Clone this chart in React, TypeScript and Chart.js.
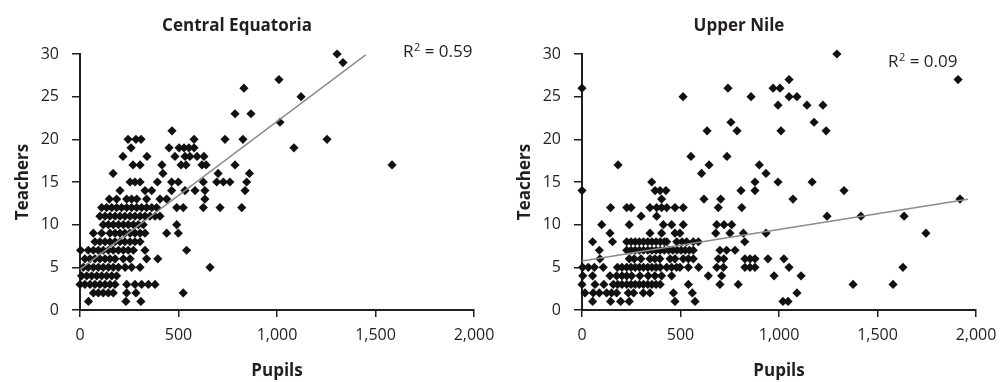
import React, { useEffect, useRef } from "react";
import { Chart, registerables } from "chart.js";

Chart.register(...registerables);

// ---------- data ----------
const xTickValues = [0, 500, 1000, 1500, 2000];
const yTickValues = [0, 5, 10, 15, 20, 25, 30];

// Pupils per school, listed by the number of teachers (array index = teachers)
const centralEquatoriaPupils: number[][] = [
  /* 0 */ [],
  /* 1 */ [43, 233, 309],
  /* 2 */ [68, 93, 118, 144, 169, 237, 284, 524],
  /* 3 */ [0, 25, 51, 76, 101, 127, 152, 178, 237, 279, 313, 347, 381],
  /* 4 */ [8, 34, 59, 85, 110, 135, 161, 186],
  /* 5 */ [17, 42, 68, 93, 118, 144, 169, 195, 229, 262, 305, 660],
  /* 6 */ [25, 51, 76, 101, 127, 152, 178, 220, 254, 338, 395],
  /* 7 */ [3, 42, 68, 93, 118, 144, 169, 195, 220, 245, 271, 330, 541],
  /* 8 */ [76, 101, 127, 152, 178, 203, 228, 254, 279, 305],
  /* 9 */ [68, 110, 152, 178, 203, 228, 254, 279, 305, 330, 440, 499],
  /* 10 */ [118, 144, 169, 195, 220, 245, 271, 296, 321, 491],
  /* 11 */ [101, 127, 152, 178, 203, 228, 254, 279, 305, 330, 355, 381, 406],
  /* 12 */ [110, 135, 161, 186, 211, 237, 262, 288, 313, 338, 364, 389, 491, 524, 626, 711, 821],
  /* 13 */ [149, 186, 237, 262, 288, 338, 406, 440, 634],
  /* 14 */ [203, 330, 364, 465, 533, 584, 634, 838],
  /* 15 */ [254, 279, 305, 393, 465, 499, 626, 694, 728, 761, 846],
  /* 16 */ [168, 421, 701, 860],
  /* 17 */ [269, 305, 416, 513, 538, 619, 640, 787, 1584],
  /* 18 */ [218, 340, 482, 533, 558, 594, 629],
  /* 19 */ [259, 452, 503, 528, 553, 579, 1086],
  /* 20 */ [244, 284, 310, 579, 736, 827, 1254],
  /* 21 */ [467],
  /* 22 */ [1015],
  /* 23 */ [787, 868],
  /* 24 */ [],
  /* 25 */ [1122],
  /* 26 */ [832],
  /* 27 */ [1010],
  /* 28 */ [],
  /* 29 */ [1335],
  /* 30 */ [1305],
];

const upperNilePupils: number[][] = [
  /* 0 */ [],
  /* 1 */ [54, 145, 196, 240, 472, 574, 1020, 1046],
  /* 2 */ [15, 57, 88, 125, 150, 176, 235, 262, 311, 345, 464, 560, 1091],
  /* 3 */ [0, 66, 111, 159, 181, 203, 227, 249, 270, 291, 312, 334, 355, 376, 397, 540, 700, 793, 1376, 1579],
  /* 4 */ [4, 54, 142, 176, 203, 227, 252, 294, 336, 370, 404, 455, 641, 709, 975, 1112],
  /* 5 */ [3, 32, 63, 108, 180, 203, 227, 249, 270, 291, 312, 334, 355, 376, 397, 430, 455, 480, 497, 540, 592, 684, 718, 827, 853, 878, 1051, 1629],
  /* 6 */ [91, 240, 265, 299, 345, 370, 395, 447, 472, 514, 540, 565, 692, 720, 827, 853, 878, 944, 1025],
  /* 7 */ [88, 227, 249, 270, 291, 312, 334, 355, 376, 397, 418, 440, 461, 482, 503, 524, 545, 565, 700, 734, 777],
  /* 8 */ [54, 155, 227, 249, 270, 291, 312, 334, 355, 376, 397, 418, 430, 481, 508, 531, 565, 591, 826],
  /* 9 */ [142, 345, 404, 472, 497, 679, 751, 819, 934, 1746],
  /* 10 */ [100, 240, 413, 455, 514, 684, 721, 760],
  /* 11 */ [300, 379, 1244, 1416, 1635],
  /* 12 */ [145, 227, 249, 345, 379, 404, 430, 472, 514, 692, 811],
  /* 13 */ [404, 619, 704, 1071, 1919],
  /* 14 */ [0, 371, 396, 426, 807, 878, 1330],
  /* 15 */ [354, 878, 995, 1168],
  /* 16 */ [607, 934],
  /* 17 */ [183, 645, 900],
  /* 18 */ [553, 736],
  /* 19 */ [],
  /* 20 */ [],
  /* 21 */ [635, 787, 1010, 1239],
  /* 22 */ [756, 1178],
  /* 23 */ [],
  /* 24 */ [995, 1142, 1223],
  /* 25 */ [513, 858, 1051, 1091],
  /* 26 */ [0, 741, 970, 1005],
  /* 27 */ [1051, 1909],
  /* 28 */ [],
  /* 29 */ [],
  /* 30 */ [1294],
];

// Linear trend lines (end points)
const centralEquatoriaTrendX = [0, 1450];
const centralEquatoriaTrendY = [4.77, 29.9];
const upperNileTrendX = [0, 1959];
const upperNileTrendY = [5.74, 12.97];

// R-squared labels: [base, superscript, rest]
const centralEquatoriaR2 = ["R", "2", " = 0.59"];
const upperNileR2 = ["R", "2", " = 0.09"];

// ---------- styling ----------
const INK = "#231f20";
const FONT = "'Open Sans', 'DejaVu Sans', sans-serif";

type PanelProps = {
  left: number;
  width: number;
  title: string;
  pupilsByTeachers: number[][];
  trendX: number[];
  trendY: number[];
  r2: string[];
  r2x: number;
  r2y: number;
};

function Panel(props: PanelProps) {
  const ref = useRef<HTMLCanvasElement>(null);
  useEffect(() => {
    const points = props.pupilsByTeachers.flatMap((row, teachers) =>
      row.map((pupils) => ({ x: pupils, y: teachers }))
    );
    const trend = props.trendX.map((x, i) => ({ x, y: props.trendY[i] }));
    const rightPad = props.width - 474;

    const r2Plugin = {
      id: "r2label",
      afterDraw(chart: any) {
        const ctx = chart.ctx;
        ctx.save();
        ctx.fillStyle = INK;
        ctx.textAlign = "left";
        ctx.textBaseline = "middle";
        let x = props.r2x;
        ctx.font = `17px ${FONT}`;
        ctx.fillText(props.r2[0], x, props.r2y);
        x += ctx.measureText(props.r2[0]).width + 0.5;
        ctx.font = `11px ${FONT}`;
        ctx.fillText(props.r2[1], x, props.r2y - 4);
        x += ctx.measureText(props.r2[1]).width;
        ctx.font = `17px ${FONT}`;
        ctx.fillText(props.r2[2], x, props.r2y);
        ctx.restore();
      },
    };

    const chart = new Chart(ref.current!, {
      type: "scatter",
      data: {
        datasets: [
          {
            data: trend,
            showLine: true,
            borderColor: "#8c8c8c",
            borderWidth: 1.5,
            pointRadius: 0,
            order: 0,
            clip: false,
          } as any,
          {
            data: points,
            pointStyle: "rectRot",
            pointRadius: 4.6,
            pointBackgroundColor: "#111",
            pointBorderWidth: 0,
            backgroundColor: "#111",
            borderWidth: 0,
            order: 1,
            clip: false,
          } as any,
        ],
      },
      options: {
        animation: false,
        responsive: false,
        events: [],
        layout: { padding: { left: 0, right: rightPad, top: 0, bottom: 0 } },
        plugins: {
          legend: { display: false },
          tooltip: { enabled: false },
          title: {
            display: true,
            text: props.title,
            color: INK,
            font: { family: FONT, size: 17, weight: "bold" },
            padding: { top: 16, bottom: 17.6 },
          },
        },
        scales: {
          x: {
            type: "linear",
            min: 0,
            max: 2000,
            afterBuildTicks: (s: any) => {
              s.ticks = xTickValues.map((v) => ({ value: v }));
            },
            ticks: {
              color: INK,
              font: { family: FONT, size: 16 },
              padding: 9,
              maxRotation: 0,
              autoSkip: false,
              callback: (v: any) => Number(v).toLocaleString("en-US"),
            },
            grid: {
              drawOnChartArea: false,
              drawTicks: true,
              tickLength: 7,
              color: INK,
              lineWidth: 1.5,
            },
            border: { color: INK, width: 2 },
            title: {
              display: true,
              text: "Pupils",
              color: INK,
              font: { family: FONT, size: 17, weight: "bold" },
              padding: { top: 0, bottom: 1 },
            },
            afterFit: (s: any) => {
              s.height = 72;
              s.paddingLeft = 0;
              s.paddingRight = 0;
            },
          },
          y: {
            type: "linear",
            min: 0,
            max: 30,
            afterBuildTicks: (s: any) => {
              s.ticks = yTickValues.map((v) => ({ value: v }));
            },
            ticks: {
              color: INK,
              font: { family: FONT, size: 16 },
              padding: 13,
            },
            grid: {
              drawOnChartArea: false,
              drawTicks: true,
              tickLength: 8,
              color: INK,
              lineWidth: 1.5,
            },
            border: { color: INK, width: 2 },
            title: {
              display: true,
              text: "Teachers",
              color: INK,
              font: { family: FONT, size: 17, weight: "bold" },
              padding: { top: 13, bottom: 0 },
            },
            afterFit: (s: any) => {
              s.width = 80;
              s.paddingTop = 0;
              s.paddingBottom = 0;
            },
          },
        },
      } as any,
      plugins: [r2Plugin],
    });
    return () => chart.destroy();
  }, []);

  return (
    <div style={{ position: "absolute", left: props.left, top: 0, width: props.width, height: 382 }}>
      <canvas ref={ref} width={props.width} height={382} style={{ display: "block" }} />
    </div>
  );
}

export default function App() {
  return (
    <div style={{ position: "absolute", left: 0, top: 0, width: 1001, height: 382, background: "#fff" }}>
      <Panel
        left={0}
        width={500}
        title="Central Equatoria"
        pupilsByTeachers={centralEquatoriaPupils}
        trendX={centralEquatoriaTrendX}
        trendY={centralEquatoriaTrendY}
        r2={centralEquatoriaR2}
        r2x={403}
        r2y={52}
      />
      <Panel
        left={502}
        width={499}
        title="Upper Nile"
        pupilsByTeachers={upperNilePupils}
        trendX={upperNileTrendX}
        trendY={upperNileTrendY}
        r2={upperNileR2}
        r2x={386}
        r2y={62}
      />
    </div>
  );
}
